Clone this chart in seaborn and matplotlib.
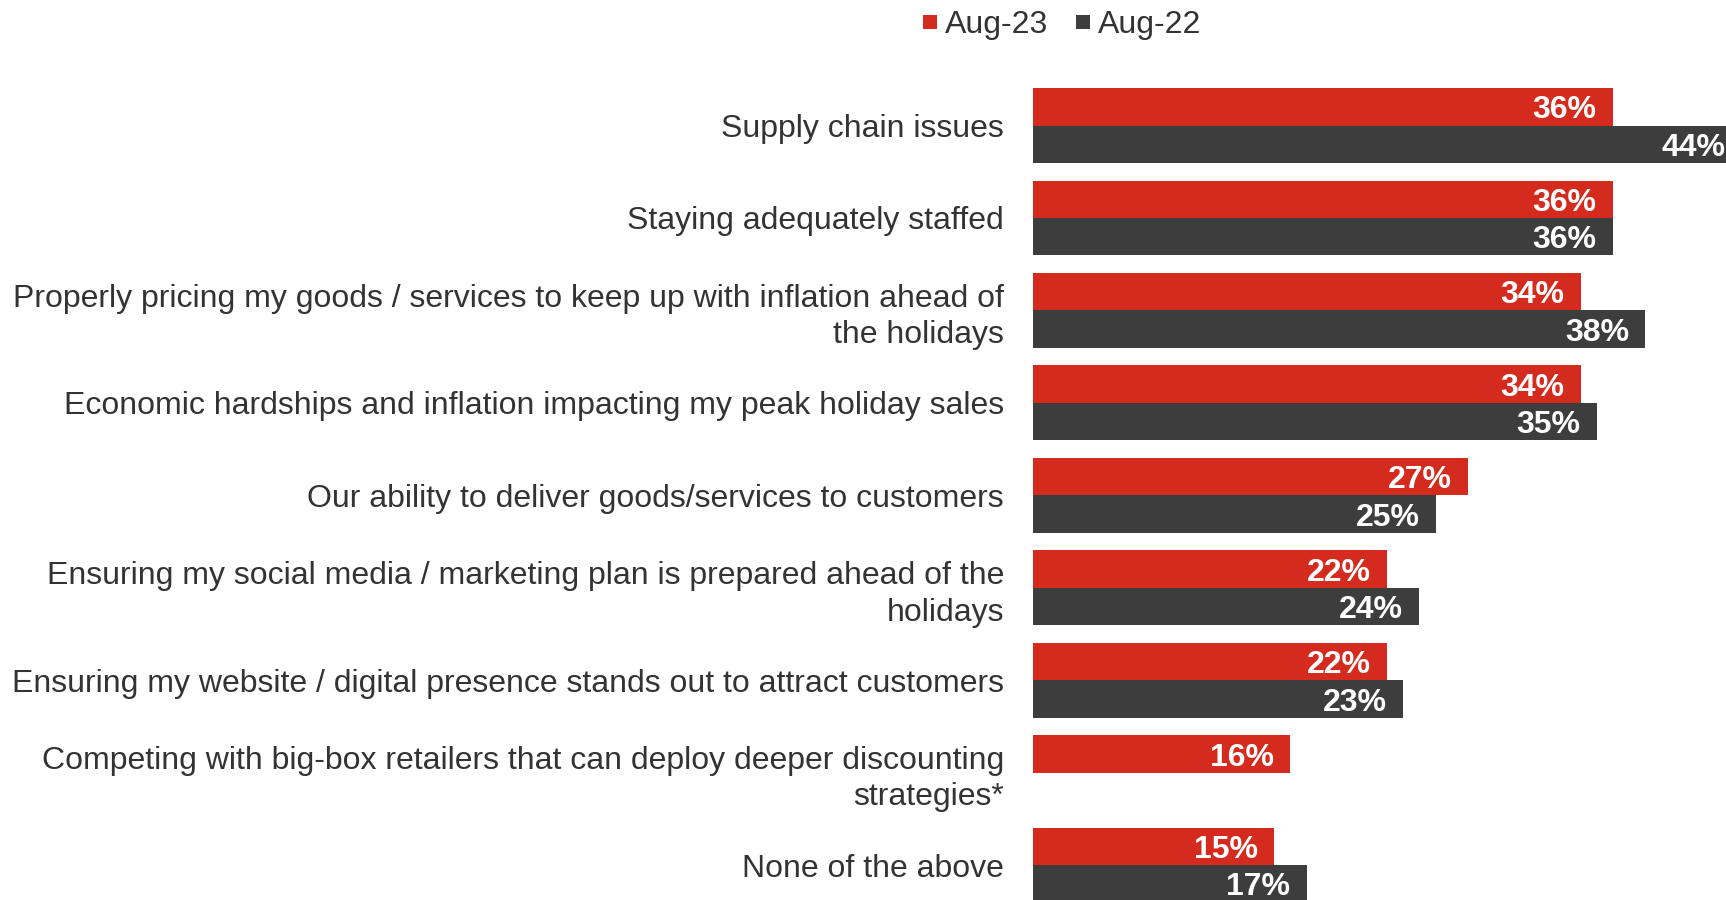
import numpy as np
import pandas as pd
import matplotlib
matplotlib.use("Agg")
import matplotlib.pyplot as plt
from matplotlib.lines import Line2D
import seaborn as sns

categories = [
    "Supply chain issues",
    "Staying adequately staffed",
    "Properly pricing my goods / services to keep up with inflation ahead of\nthe holidays",
    "Economic hardships and inflation impacting my peak holiday sales",
    "Our ability to deliver goods/services to customers",
    "Ensuring my social media / marketing plan is prepared ahead of the\nholidays",
    "Ensuring my website / digital presence stands out to attract customers",
    "Competing with big-box retailers that can deploy deeper discounting\nstrategies*",
    "None of the above",
]
aug23 = [36, 36, 34, 34, 27, 22, 22, 16, 15]
aug22 = [44, 36, 38, 35, 25, 24, 23, np.nan, 17]
series = ["Aug-23", "Aug-22"]
colors = {"Aug-23": "#D52B1E", "Aug-22": "#3D3D3D"}

df = pd.DataFrame({
    "category": categories * 2,
    "period": [series[0]] * len(categories) + [series[1]] * len(categories),
    "value": aug23 + aug22,
})

sns.set_theme(style="white")
plt.rcParams["font.family"] = ["Liberation Sans", "DejaVu Sans"]

W, H = 1726, 900
fig = plt.figure(figsize=(W / 100, H / 100), dpi=100)
left_px = 1032.5
ax = fig.add_axes([left_px / W, 0, 1 - left_px / W, 1])

sns.barplot(data=df, y="category", x="value", hue="period", order=categories,
            hue_order=series, palette=colors, orient="h", width=0.81,
            ax=ax, legend=False, saturation=1, linewidth=0)

px_per_pct = 16.12
ax.set_xlim(0, (W - left_px) / px_per_pct)
top_center = 125.5
pitch = 92.47
ax.set_ylim((H - top_center) / pitch, -top_center / pitch)

for cont in ax.containers:
    for bar in cont:
        w = bar.get_width()
        if np.isnan(w) or w == 0:
            continue
        ax.text(w - 1.0, bar.get_y() + bar.get_height() / 2, f"{w:.0f}%",
                ha="right", va="center_baseline", color="white", fontsize=23,
                fontweight="bold")

ax.set_xlabel("")
ax.set_ylabel("")
ax.set_xticks([])
ax.tick_params(axis="y", length=0, pad=20.5, labelsize=23, labelcolor="#333333")
for lbl in ax.get_yticklabels():
    lbl.set_multialignment("right")
    lbl.set_linespacing(1.27)
for s in ax.spines.values():
    s.set_visible(False)

handles = [Line2D([], [], marker="s", linestyle="", markersize=10,
                  markerfacecolor=colors[s], markeredgewidth=0) for s in series]
fig.legend(handles, series, loc="center", bbox_to_anchor=(1060 / W, 1 - 25 / H),
           ncol=2, frameon=False, fontsize=23, handletextpad=0.1,
           columnspacing=0.76, handlelength=0.7, labelcolor="#333333")

fig.savefig("out.png", dpi=100)
